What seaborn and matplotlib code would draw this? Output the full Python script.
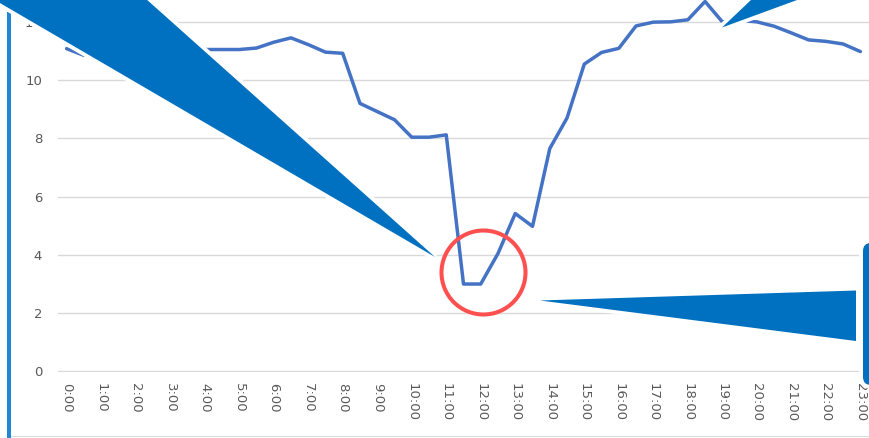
import numpy as np
import pandas as pd
import matplotlib.pyplot as plt
import seaborn as sns
from matplotlib.patches import Polygon, Circle, Rectangle, FancyBboxPatch
from matplotlib.transforms import Affine2D

# half-hourly categories, 0:00 .. 23:00
times = [f"{h}:{m:02d}" for h in range(24) for m in (0, 30)][:47]
values = [11.08, 10.85, 10.9, 10.95, 11.0, 11.0, 11.05, 11.05, 11.05, 11.05,
          11.05, 11.1, 11.3, 11.45, 11.22, 10.96, 10.92, 9.2, 8.92, 8.64,
          8.04, 8.04, 8.12, 3.0, 3.0, 4.05, 5.42, 4.98, 7.65, 8.7,
          10.55, 10.95, 11.09, 11.86, 11.99, 12.0, 12.07, 12.7, 12.0, 12.05,
          12.0, 11.85, 11.62, 11.38, 11.33, 11.24, 10.98]
y_ticks = [0, 2, 4, 6, 8, 10, 12]

df = pd.DataFrame({"time": times, "value": values})
df["pos"] = np.arange(len(df))

sns.set_theme(style="white")
plt.rcParams["font.family"] = ["DejaVu Sans"]

W, H = 870, 438
fig = plt.figure(figsize=(W / 100, H / 100), dpi=100)
ax = fig.add_axes([58 / W, 66 / H, 811 / W, 372 / H])

sns.lineplot(data=df, x="pos", y="value", ax=ax, color="#4472C4",
             linewidth=2.5, solid_joinstyle="round")

ax.set_xlim(-0.5, len(df) - 0.5)
ax.set_ylim(-0.02, 12.75)
ax.set_yticks(y_ticks)
ax.yaxis.grid(True, color="#D9D9D9", linewidth=1.0)
ax.set_axisbelow(True)
hours = df.iloc[::2]
ax.set_xticks(hours["pos"])
ax.set_xticklabels(hours["time"], rotation=-90, ha="center", va="top")
ax.set_xlabel("")
ax.set_ylabel("")
sns.despine(ax=ax, left=True, bottom=True)
ax.tick_params(length=0, labelsize=9.5, labelcolor="#595959")
ax.tick_params(axis="x", pad=8)
ax.tick_params(axis="y", pad=11.5)

# overlay shapes drawn in screenshot pixels (y down)
px = Affine2D().scale(0.01, -0.01).translate(0, H / 100) + fig.dpi_scale_trans
BLUE = "#0070C0"

def shape(make):
    fig.add_artist(make(fc=BLUE, ec="white", lw=5.5, transform=px))
    fig.add_artist(make(fc=BLUE, ec="none", transform=px))

# frame bits
fig.add_artist(Rectangle((7, 12), 4, 430, fc="#2287D2", ec="none", transform=px))
fig.add_artist(Rectangle((11, 435.8), 870, 1.5, fc="#D9D9D9", ec="none", transform=px))

shape(lambda **kw: Polygon([(435, 257), (-108, -60), (80, -60)], closed=True, **kw))
shape(lambda **kw: Polygon([(722, 27.5), (782.6, -30), (879, -30)], closed=True, **kw))
shape(lambda **kw: Polygon([(540, 300.5), (856, 290.5), (856, 341)], closed=True, **kw))
shape(lambda **kw: FancyBboxPatch((863, 243), 60, 142,
                                  boxstyle="round,pad=0,rounding_size=8", **kw))

fig.add_artist(Circle((483.5, 272.5), 42, fill=False, ec="#FF4F4F", lw=2.9, transform=px))

fig.savefig("out.png", dpi=100)
